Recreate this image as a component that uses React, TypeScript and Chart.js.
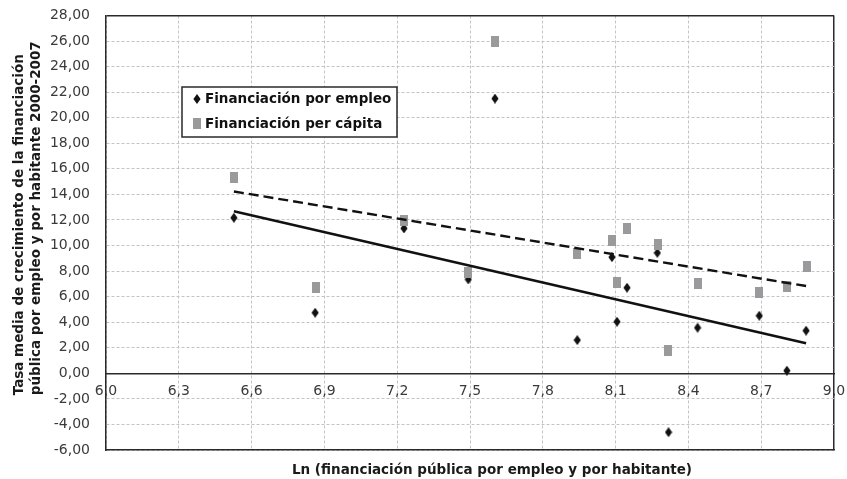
import { useEffect, useRef } from 'react';
import { Chart, registerables } from 'chart.js';

Chart.register(...registerables);

// ---- data ----
const seriesLabels = ['Financiación por empleo', 'Financiación per cápita'];
const xEmpleo = [6.527, 6.862, 7.228, 7.493, 7.603, 7.942, 8.085, 8.106, 8.147, 8.272, 8.318, 8.438, 8.692, 8.806, 8.885];
const yEmpleo = [12.17, 4.74, 11.34, 7.35, 21.5, 2.6, 9.09, 4.04, 6.7, 9.43, -4.61, 3.57, 4.51, 0.21, 3.34];
const xCapita = [6.529, 6.864, 7.228, 7.493, 7.603, 7.941, 8.085, 8.106, 8.145, 8.273, 8.314, 8.438, 8.692, 8.806, 8.887];
const yCapita = [15.3, 6.7, 11.99, 7.9, 25.93, 9.38, 10.37, 7.07, 11.34, 10.09, 1.77, 7.04, 6.31, 6.82, 8.39];
const trendX = [6.527, 8.885];
const trendEmpleo = [12.68, 2.35];
const trendCapita = [14.23, 6.83];
const xTitle = 'Ln (financiación pública por empleo y por habitante)';
const yTitle = ['Tasa media de crecimiento de la financiación', 'pública por empleo y por habitante 2000-2007'];
const xMin = 6, xMax = 9, xStep = 0.3;
const yMin = -6, yMax = 28, yStep = 2;

const toPoints = (xs: number[], ys: number[]) => xs.map((x, i) => ({ x, y: ys[i] }));

const FONT = 'DejaVu Sans';
const gridGray = '#c4c4c4';
const axisDark = '#2a2a2a';
const titleFont = `bold 13.5px "${FONT}"`;

function makeDiamond() {
  const c = document.createElement('canvas');
  c.width = 8; c.height = 10;
  const g = c.getContext('2d')!;
  g.fillStyle = '#111';
  g.beginPath();
  g.moveTo(4, 0); g.lineTo(7.6, 5); g.lineTo(4, 10); g.lineTo(0.4, 5);
  g.closePath(); g.fill();
  return c;
}
function makeSquare() {
  const c = document.createElement('canvas');
  c.width = 8; c.height = 11;
  const g = c.getContext('2d')!;
  g.fillStyle = '#9a9a9c';
  g.fillRect(0, 0, 8, 11);
  return c;
}

const boxLegend = {
  id: 'boxLegend',
  afterDatasetsDraw(chart: any) {
    const ctx = chart.ctx;
    const { left, top } = chart.chartArea;
    const bx = left + 76, by = top + 71.5, bw = 215, bh = 50;
    ctx.save();
    ctx.fillStyle = '#fff';
    ctx.fillRect(bx, by, bw, bh);
    ctx.strokeStyle = axisDark;
    ctx.lineWidth = 1.5;
    ctx.strokeRect(bx, by, bw, bh);
    const items = chart.data.datasets
      .filter((d: any) => d.legendIndex !== undefined)
      .sort((a: any, b: any) => a.legendIndex - b.legendIndex);
    items.forEach((d: any, i: number) => {
      const cy = by + 11.5 + i * 25;
      const img = d.pointStyle;
      ctx.drawImage(img, Math.round(bx + 14.5 - img.width / 2), Math.round(cy - img.height / 2));
      ctx.fillStyle = '#111';
      ctx.font = titleFont;
      ctx.textBaseline = 'middle';
      ctx.textAlign = 'left';
      ctx.fillText(d.label, bx + 23, cy + 1);
    });
    ctx.restore();
  },
};

const axisTitles = {
  id: 'axisTitles',
  afterDraw(chart: any) {
    const ctx = chart.ctx;
    const { left, right, top, bottom } = chart.chartArea;
    const cx = (left + right) / 2;
    const cy = (top + bottom) / 2;
    ctx.save();
    ctx.fillStyle = '#1a1a1a';
    ctx.font = titleFont;
    ctx.textAlign = 'center';
    ctx.textBaseline = 'middle';
    ctx.fillText(xTitle, cx + 22, bottom + 20);
    const lineX = [left - 86.5, left - 70];
    const lineY = [cy - 8, cy - 14.5];
    yTitle.forEach((t, i) => {
      ctx.save();
      ctx.translate(lineX[i], lineY[i]);
      ctx.rotate(-Math.PI / 2);
      ctx.fillText(t, 0, 0);
      ctx.restore();
    });
    ctx.restore();
  },
};

const noPad = (s: any) => {
  s.paddingTop = 0; s.paddingBottom = 0; s.paddingLeft = 0; s.paddingRight = 0;
};

export default function App() {
  const ref = useRef<HTMLCanvasElement>(null);
  useEffect(() => {
    document.body.style.margin = '0';
    const diamond = makeDiamond();
    const square = makeSquare();
    const chart = new Chart(ref.current!, {
      type: 'scatter',
      data: {
        datasets: [
          {
            type: 'line',
            label: 'Lineal (' + seriesLabels[0] + ')',
            data: toPoints(trendX, trendEmpleo),
            borderColor: '#111',
            borderWidth: 2.4,
            pointRadius: 0,
            showLine: true,
            fill: false,
            xAxisID: 'x',
          },
          {
            type: 'line',
            label: 'Lineal (' + seriesLabels[1] + ')',
            data: toPoints(trendX, trendCapita),
            borderColor: '#111',
            borderWidth: 2.4,
            borderDash: [10, 5],
            pointRadius: 0,
            showLine: true,
            fill: false,
            xAxisID: 'x',
          },
          {
            label: seriesLabels[1],
            data: toPoints(xCapita, yCapita),
            pointStyle: square as any,
            backgroundColor: '#9a9a9c',
            legendIndex: 1,
            xAxisID: 'x',
          } as any,
          {
            label: seriesLabels[0],
            data: toPoints(xEmpleo, yEmpleo),
            pointStyle: diamond as any,
            backgroundColor: '#111',
            legendIndex: 0,
            xAxisID: 'x',
          } as any,
        ],
      },
      options: {
        responsive: false,
        animation: false,
        devicePixelRatio: 1,
        layout: { padding: { left: 0, top: 15.5, right: 13, bottom: 0 } },
        plugins: { legend: { display: false }, tooltip: { enabled: false } },
        scales: {
          x: {
            type: 'linear',
            position: 'bottom',
            min: xMin,
            max: xMax,
            ticks: { display: false, stepSize: xStep },
            grid: {
              drawTicks: false,
              color: (c: any) => (c.tick && c.tick.value === xMax ? axisDark : gridGray),
              lineWidth: (c: any) => (c.tick && c.tick.value === xMax ? 1.5 : 1),
            },
            border: {
              display: true,
              color: axisDark,
              width: 1.5,
              dash: (c: any) => (c.type === 'tick' && c.tick.value !== xMax ? [3, 2] : []),
            },
            title: { display: false, text: xTitle },
            afterFit: (s: any) => { s.height = 29; noPad(s); },
          },
          x2: {
            type: 'linear',
            axis: 'x',
            position: { y: 0 },
            min: xMin,
            max: xMax,
            ticks: {
              stepSize: xStep,
              padding: 10,
              autoSkip: false,
              maxRotation: 0,
              color: '#3a3a3a',
              font: { family: FONT, size: 14 },
              callback: (v: any) => Number(v).toFixed(1).replace('.', ','),
            },
            grid: { display: false, drawTicks: false },
            border: { display: true, color: axisDark, width: 1.5 },
            afterFit: (s: any) => { s.height = 0; noPad(s); },
          } as any,
          y: {
            type: 'linear',
            min: yMin,
            max: yMax,
            ticks: {
              stepSize: yStep,
              padding: 16,
              color: '#3a3a3a',
              font: { family: FONT, size: 14 },
              callback: (v: any) => Number(v).toFixed(2).replace('.', ','),
            },
            grid: {
              drawTicks: false,
              color: (c: any) =>
                c.tick && c.tick.value === yMax ? axisDark : c.tick && c.tick.value === 0 ? 'rgba(0,0,0,0)' : gridGray,
              lineWidth: (c: any) => (c.tick && c.tick.value === yMax ? 1.5 : 1),
            },
            border: {
              display: true,
              color: axisDark,
              width: 1.5,
              dash: (c: any) => (c.type === 'tick' && c.tick.value !== yMax ? [3, 2] : []),
            },
            title: { display: false, text: yTitle },
            afterFit: (s: any) => { s.width = 106; noPad(s); },
          },
        },
      } as any,
      plugins: [boxLegend, axisTitles],
    });
    return () => chart.destroy();
  }, []);
  return (
    <div style={{ width: 847, height: 479 }}>
      <canvas ref={ref} width={847} height={479} style={{ display: 'block' }} />
    </div>
  );
}
